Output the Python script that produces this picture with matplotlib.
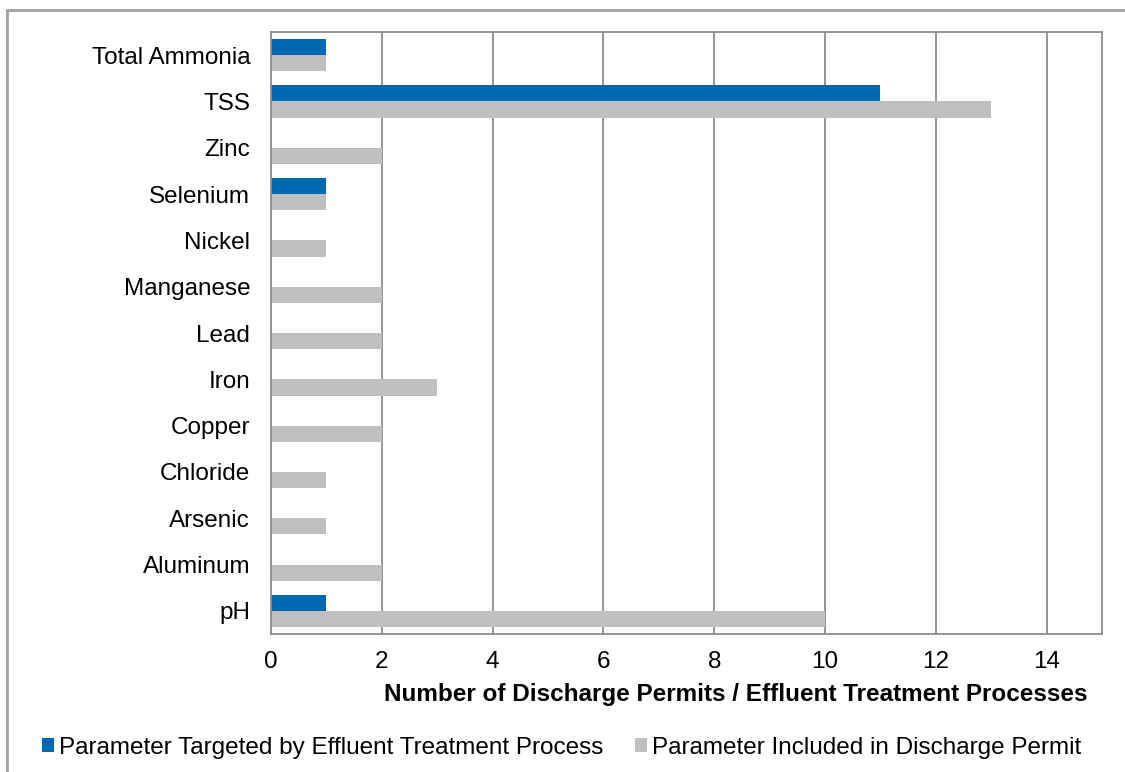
import numpy as np
import matplotlib.pyplot as plt
from matplotlib.patches import Rectangle

plt.rcParams['font.family'] = ['Liberation Sans', 'DejaVu Sans']

# Data (top to bottom as in the chart)
categories = ['Total Ammonia', 'TSS', 'Zinc', 'Selenium', 'Nickel', 'Manganese',
              'Lead', 'Iron', 'Copper', 'Chloride', 'Arsenic', 'Aluminum', 'pH']
targeted = [1, 11, 0, 1, 0, 0, 0, 0, 0, 0, 0, 0, 1]
included = [1, 13, 2, 1, 1, 2, 2, 3, 2, 1, 1, 2, 10]
x_ticks = [0, 2, 4, 6, 8, 10, 12, 14]

blue = '#0068B1'
grey = '#BFBFBF'
edge = '#8C8C8C'
fs = 17.5

fig = plt.figure(figsize=(11.25, 7.72), dpi=100)
ax = fig.add_axes([271 / 1125, 1 - 634 / 772, (1102 - 271) / 1125, (634 - 32) / 772])

n = len(categories)
y = np.arange(n)[::-1]
h = 0.35
ax.barh(y + h / 2, targeted, height=h, color=blue, label='Parameter Targeted by Effluent Treatment Process')
ax.barh(y - h / 2, included, height=h, color=grey, label='Parameter Included in Discharge Permit')

ax.set_ylim(-0.5, n - 0.5)
ax.set_xlim(0, 15)
ax.set_yticks(y)
ax.set_yticklabels(categories, fontsize=fs)
ax.set_xticks(x_ticks)
ax.set_xticklabels([str(t) for t in x_ticks], fontsize=fs)
ax.tick_params(length=0)
ax.tick_params(axis='y', pad=15)
ax.tick_params(axis='x', pad=12)
for t in x_ticks[1:]:
    ax.axvline(t, color=edge, lw=1.3, zorder=0)
for s in ax.spines.values():
    s.set_color(edge)
    s.set_linewidth(1.3)

fig.text(1088 / 1125, 1 - 695 / 772, 'Number of Discharge Permits / Effluent Treatment Processes',
         ha='right', va='center', fontsize=fs, fontweight='bold')

# legend
fig.legend(loc='center left', bbox_to_anchor=(20 / 1125, 1 - 748 / 772), ncol=2, frameon=False,
           fontsize=fs, handlelength=0.5, handleheight=0.5, handletextpad=0.2, columnspacing=1.3)

# outer border
fig.patches.append(Rectangle((7 / 1125, -0.01), 1.1, 1 - 10 / 772 + 0.01, transform=fig.transFigure,
                             fill=False, edgecolor='#A0A0A0', lw=2))

fig.savefig('out.png', dpi=100)
